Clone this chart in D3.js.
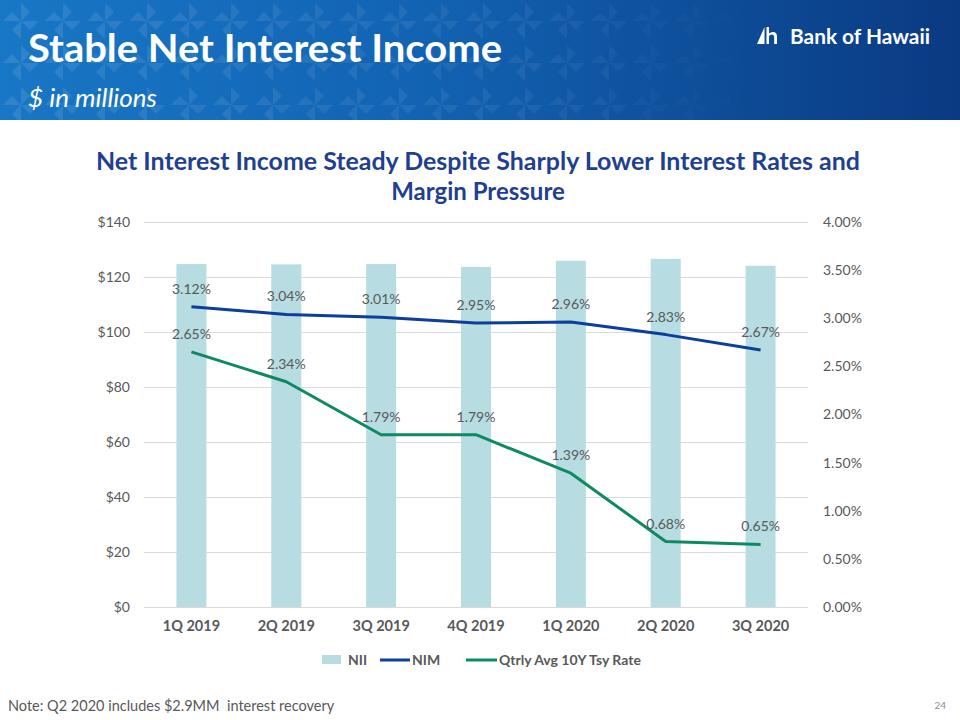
<!DOCTYPE html>
<html>
<head>
<meta charset="utf-8">
<script src="https://cdn.jsdelivr.net/npm/d3@7/dist/d3.min.js"></script>
<style>
  html, body { margin: 0; padding: 0; background: #fff; }
  svg { display: block; }
</style>
</head>
<body>
<svg id="chart" width="960" height="720"></svg>
<script>
const categories = ["1Q 2019", "2Q 2019", "3Q 2019", "4Q 2019", "1Q 2020", "2Q 2020", "3Q 2020"];
const nii = [124.7, 124.6, 124.7, 123.7, 125.9, 126.6, 124.1];
const nim = [3.12, 3.04, 3.01, 2.95, 2.96, 2.83, 2.67];
const tsy = [2.65, 2.34, 1.79, 1.79, 1.39, 0.68, 0.65];
const leftTicks = [0, 20, 40, 60, 80, 100, 120, 140];
const rightTicks = [0, 0.5, 1.0, 1.5, 2.0, 2.5, 3.0, 3.5, 4.0];
const seriesNames = ["NII", "NIM", "Qtrly Avg 10Y Tsy Rate"];

const font = "Lato, 'Open Sans', sans-serif";
const gray = "#595959";
const svg = d3.select("#chart");

// ---------- Header banner ----------
const defs = svg.append("defs");
const grad = defs.append("linearGradient").attr("id", "hdr").attr("x1", "0").attr("x2", "1").attr("y1", "0").attr("y2", "0");
grad.append("stop").attr("offset", "0%").attr("stop-color", "#1877c6");
grad.append("stop").attr("offset", "45%").attr("stop-color", "#1262b2");
grad.append("stop").attr("offset", "100%").attr("stop-color", "#0a3a82");

const pat = defs.append("pattern").attr("id", "pinwheel").attr("patternUnits", "userSpaceOnUse")
  .attr("width", 42).attr("height", 42);
[0, 90, 180, 270].forEach(a => {
  pat.append("path").attr("d", "M21,21 L21,3 L30,12 Z")
    .attr("transform", `rotate(${a},21,21)`).attr("fill", "#ffffff").attr("opacity", 0.1);
});
const fade = defs.append("linearGradient").attr("id", "fade").attr("x1", "0").attr("x2", "1");
fade.append("stop").attr("offset", "0%").attr("stop-color", "#fff").attr("stop-opacity", 1);
fade.append("stop").attr("offset", "55%").attr("stop-color", "#fff").attr("stop-opacity", 0.6);
fade.append("stop").attr("offset", "80%").attr("stop-color", "#fff").attr("stop-opacity", 0);
defs.append("mask").attr("id", "fadeMask").append("rect")
  .attr("width", 960).attr("height", 120).attr("fill", "url(#fade)");

svg.append("rect").attr("width", 960).attr("height", 120).attr("fill", "url(#hdr)");
svg.append("rect").attr("width", 960).attr("height", 120).attr("fill", "url(#pinwheel)").attr("mask", "url(#fadeMask)");

svg.append("text").attr("x", 28).attr("y", 62).text("Stable Net Interest Income")
  .attr("fill", "#fff").attr("font-family", font).attr("font-weight", "bold").attr("font-size", 39)
  .attr("textLength", 474).attr("lengthAdjust", "spacingAndGlyphs");
svg.append("text").attr("x", 28).attr("y", 107).text("$ in millions")
  .attr("fill", "#fff").attr("font-family", font).attr("font-style", "italic").attr("font-size", 25)
  .attr("textLength", 129).attr("lengthAdjust", "spacingAndGlyphs");

// Logo
const logo = svg.append("g").attr("transform", "translate(757,27)");
logo.append("path").attr("d", "M0,17 L7.5,0 L7.5,17 Z").attr("fill", "#fff");
logo.append("path").attr("d", "M9.5,0 L12,0 L12,6.5 Q13.5,5 16,5 Q20,5 20,9.5 L20,17 L17.2,17 L17.2,10 Q17.2,7.5 15,7.5 Q12,7.5 12,10.5 L12,17 L9.5,17 Z").attr("fill", "#fff");
svg.append("text").attr("x", 790).attr("y", 44).text("Bank of Hawaii")
  .attr("fill", "#fff").attr("font-family", font).attr("font-weight", "bold").attr("font-size", 20.5)
  .attr("textLength", 140).attr("lengthAdjust", "spacingAndGlyphs");

// ---------- Chart title ----------
const title = svg.append("text").attr("text-anchor", "middle").attr("fill", "#1f3f8f")
  .attr("font-family", font).attr("font-weight", "bold").attr("font-size", 24);
title.append("tspan").attr("x", 478).attr("y", 170).attr("textLength", 764).attr("lengthAdjust", "spacingAndGlyphs")
  .text("Net Interest Income Steady Despite Sharply Lower Interest Rates and");
title.append("tspan").attr("x", 478).attr("y", 200).text("Margin Pressure");

// ---------- Scales ----------
const plot = { left: 144, right: 808, top: 222, bottom: 607 };
const x = d3.scaleBand().domain(categories).range([plot.left, plot.right]).paddingInner(0).paddingOuter(0);
const yL = d3.scaleLinear().domain([0, 140]).range([plot.bottom, plot.top]);
const yR = d3.scaleLinear().domain([0, 4]).range([plot.bottom, plot.top]);

// gridlines
svg.append("g").selectAll("line").data(leftTicks).join("line")
  .attr("x1", plot.left).attr("x2", plot.right)
  .attr("y1", d => Math.round(yL(d)) + 0.5).attr("y2", d => Math.round(yL(d)) + 0.5)
  .attr("stroke", "#d9d9d9").attr("stroke-width", 1);

// left axis
const axL = svg.append("g").attr("transform", `translate(${plot.left},0)`)
  .call(d3.axisLeft(yL).tickValues(leftTicks).tickFormat(d => "$" + d).tickSize(0).tickPadding(14));
axL.select(".domain").remove();
axL.selectAll("text").attr("font-family", font).attr("font-size", 14).attr("fill", gray);

// right axis
const axR = svg.append("g").attr("transform", `translate(${plot.right},0)`)
  .call(d3.axisRight(yR).tickValues(rightTicks).tickFormat(d => d.toFixed(2) + "%").tickSize(0).tickPadding(15));
axR.select(".domain").remove();
axR.selectAll("text").attr("font-family", font).attr("font-size", 14).attr("fill", gray);

// bottom axis
const axB = svg.append("g").attr("transform", `translate(0,${plot.bottom})`)
  .call(d3.axisBottom(x).tickSize(0).tickPadding(14));
axB.select(".domain").remove();
axB.selectAll("text").attr("font-family", font).attr("font-size", 14.5).attr("font-weight", "bold").attr("fill", gray);

// bars
const barW = 30;
svg.append("g").selectAll("rect").data(nii).join("rect")
  .attr("x", (d, i) => x(categories[i]) + x.bandwidth() / 2 - barW / 2)
  .attr("width", barW)
  .attr("y", d => yL(d))
  .attr("height", d => yL(0) - yL(d))
  .attr("fill", "#b7dde3");

// lines
const cx = i => x(categories[i]) + x.bandwidth() / 2;
const line = d3.line().x((d, i) => cx(i)).y(d => yR(d));
svg.append("path").datum(tsy).attr("d", line).attr("fill", "none")
  .attr("stroke", "#0e8a62").attr("stroke-width", 3).attr("stroke-linejoin", "round");
svg.append("path").datum(nim).attr("d", line).attr("fill", "none")
  .attr("stroke", "#0b3f9b").attr("stroke-width", 3).attr("stroke-linejoin", "round");

// data labels
function labels(data) {
  svg.append("g").selectAll("text").data(data).join("text")
    .attr("x", (d, i) => cx(i)).attr("y", d => yR(d) - 13)
    .attr("text-anchor", "middle").attr("font-family", font).attr("font-size", 14).attr("fill", gray)
    .text(d => d.toFixed(2) + "%");
}
labels(nim);
labels(tsy);

// legend
const lg = svg.append("g").attr("font-family", font).attr("font-size", 14).attr("font-weight", "bold").attr("fill", gray);
lg.append("rect").attr("x", 322).attr("y", 655).attr("width", 19).attr("height", 9).attr("fill", "#b7dde3");
lg.append("text").attr("x", 348).attr("y", 665).text(seriesNames[0]).attr("fill", gray);
lg.append("line").attr("x1", 380).attr("x2", 410).attr("y1", 660).attr("y2", 660).attr("stroke", "#0b3f9b").attr("stroke-width", 3);
lg.append("text").attr("x", 412).attr("y", 665).text(seriesNames[1]).attr("fill", gray);
lg.append("line").attr("x1", 466).attr("x2", 497).attr("y1", 660).attr("y2", 660).attr("stroke", "#0e8a62").attr("stroke-width", 3);
lg.append("text").attr("x", 499).attr("y", 665).text(seriesNames[2]).attr("fill", gray);

// footer
svg.append("text").attr("x", 8).attr("y", 711).text("Note: Q2 2020 includes $2.9MM  interest recovery")
  .attr("font-family", font).attr("font-size", 14.5).attr("fill", gray).style("white-space", "pre");
svg.append("text").attr("x", 946).attr("y", 709).attr("text-anchor", "end").text("24")
  .attr("font-family", font).attr("font-size", 10).attr("fill", "#8c8c8c");
</script>
</body>
</html>
